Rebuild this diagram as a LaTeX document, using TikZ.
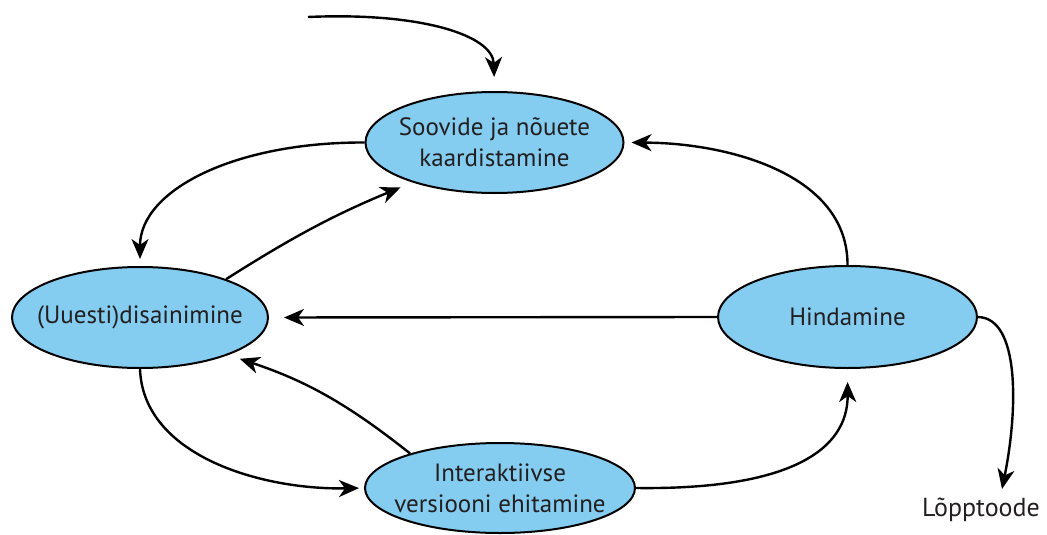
\documentclass[tikz,border=0pt]{standalone}
\usepackage{fontspec}
\setmainfont{PT Sans}
\usetikzlibrary{arrows.meta,shapes.geometric}
\definecolor{bubble}{RGB}{132,204,240}
\definecolor{ink}{RGB}{35,31,32}
\tikzset{
  stage/.style={ellipse, draw=black, line width=2pt, fill=bubble,
    inner xsep=-30pt, inner ysep=-12pt,
    align=center, font=\fontsize{25}{31}\selectfont, text=ink},
  flow/.style={line width=2.4pt, -{Stealth[length=20pt,width=17pt,inset=6pt]}},
  plain/.style={font=\fontsize{26}{30}\selectfont, text=ink}
}
\begin{document}
\begin{tikzpicture}[x=1pt,y=-1pt]
\useasboundingbox (0,0) rectangle (1047,535);
\node[stage, minimum width=258pt, minimum height=101pt] (req) at (494.5,142.5) {Soovide ja nõuete\\kaardistamine};
\node[stage, minimum width=256pt, minimum height=101pt] (des) at (140,317.5) {(Uuesti)disainimine};
\node[stage, minimum width=259pt, minimum height=102pt] (eval) at (847.5,317) {Hindamine};
\node[stage, minimum width=270pt, minimum height=90pt] (build) at (500,488) {Interaktiivse\\versiooni ehitamine};
\node[plain] (lop) at (981,510) {Lõpptoode};
\coordinate (start) at (308,17);
\coordinate (lopin) at (1002,489);

\draw[flow, shorten >=14pt] (start) .. controls (420,12) and (493,35) .. (req.north);
\draw[flow, shorten >=7pt] (req.west) .. controls (235,142) and (140,190) .. (des.north);
\draw[flow, shorten >=13pt] (des.24) to[bend left=5] (req.206);
\draw[flow, shorten >=7pt] (eval.north) .. controls (848,175) and (730,143) .. (req.east);
\draw[flow, shorten >=15pt] (eval.west) -- (des.east);
\draw[flow, shorten >=5pt] (des.south) .. controls (143,455) and (260,490) .. (build.west);
\draw[flow, shorten >=12pt] (build.159) to[bend right=10] (des.-23);
\draw[flow, shorten >=13pt] (build.east) .. controls (790,490) and (848,450) .. (eval.south);
\draw[flow] (eval.east) .. controls (1020,318) and (1018,410) .. (lopin);
\end{tikzpicture}
\end{document}
